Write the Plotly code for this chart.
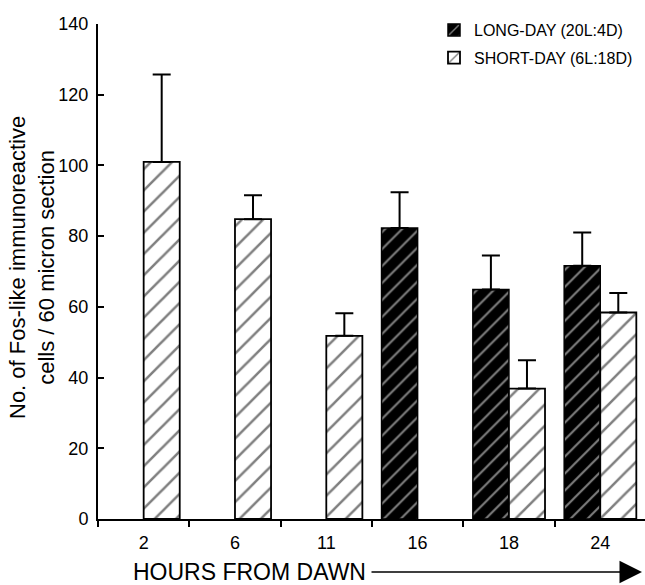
import plotly.graph_objects as go

categories = ["2", "6", "11", "16", "18", "24"]
long_day = [None, None, None, 82.3, 64.9, 71.6]
long_err = [None, None, None, 10.1, 9.6, 9.4]
short_day = [101.0, 84.8, 51.8, None, 36.9, 58.4]
short_err = [24.7, 6.8, 6.4, None, 8.0, 5.5]
signif = ["", "", "", "", "**", "*"]

W, H = 645, 585
L, R, T, B = 98, 0, 24, 66
pw, ph = W - L - R, H - T - B

def px(x):
    return (x - L) / pw

def py(y):
    return (H - B - y) / ph

font = "Liberation Sans, Arial, sans-serif"

fig = go.Figure()
fig.add_trace(go.Bar(
    x=categories, y=long_day, name="LONG-DAY (20L:4D)", legendgroup="long",
    marker=dict(color="black", line=dict(color="black", width=1.5),
                pattern=dict(shape="/", bgcolor="black", fgcolor="white",
                             size=12, solidity=0.17)),
    error_y=dict(type="data", array=long_err, arrayminus=[0]*6, symmetric=False,
                 color="black", thickness=2, width=9),
))
fig.add_trace(go.Bar(
    x=categories, y=short_day, name="SHORT-DAY (6L:18D)", legendgroup="short",
    marker=dict(color="white", line=dict(color="black", width=1.8),
                pattern=dict(shape="/", bgcolor="white", fgcolor="black",
                             size=15, solidity=0.17)),
    error_y=dict(type="data", array=short_err, arrayminus=[0]*6, symmetric=False,
                 color="black", thickness=2, width=9),
))

annotations = []
for c, v, e, s in zip(categories, short_day, short_err, signif):
    if s and v is not None:
        annotations.append(dict(x=c, y=v + e, xref="x", yref="y", text=s,
                                showarrow=False, xshift=18, yshift=10,
                                font=dict(family=font, size=15, color="black")))

annotations.append(dict(x=px(32), y=py(268), xref="paper", yref="paper",
                        xanchor="center", yanchor="middle",
                        text="No. of Fos-like immunoreactive<br>cells / 60 micron section",
                        textangle=-90, showarrow=False,
                        font=dict(family=font, size=22, color="black")))
annotations.append(dict(x=px(131), y=py(572), xref="paper", yref="paper",
                        xanchor="left", yanchor="middle",
                        text="HOURS FROM DAWN", showarrow=False,
                        font=dict(family=font, size=23, color="black")))
annotations.append(dict(x=px(642), y=py(572), xref="paper", yref="paper",
                        ax=-272, ay=0, text="", showarrow=True,
                        arrowhead=2, arrowsize=3, arrowwidth=1.5,
                        arrowcolor="black"))

fig.update_layout(
    width=W, height=H,
    margin=dict(l=L, r=R, t=T, b=B),
    paper_bgcolor="white", plot_bgcolor="white",
    barmode="group", bargap=0.21, bargroupgap=0,
    font=dict(family=font, size=17, color="black"),
    showlegend=True,
    legend=dict(x=px(434), y=py(13), xanchor="left", yanchor="top",
                font=dict(family=font, size=16, color="black"),
                bgcolor="rgba(0,0,0,0)", itemwidth=30, tracegroupgap=4),
    annotations=annotations,
    xaxis=dict(type="category", range=[-0.5, 5.49], showline=True,
               linecolor="black", linewidth=2, ticks="outside",
               tickson="boundaries", ticklen=6, tickwidth=1.5, tickcolor="black",
               showgrid=False, zeroline=False, ticklabelstandoff=6,
               tickfont=dict(family=font, size=18, color="black")),
    yaxis=dict(range=[0, 140], tickvals=[0, 20, 40, 60, 80, 100, 120, 140],
               showline=True, linecolor="black", linewidth=2, ticks="inside",
               ticklen=6, tickwidth=1.5, tickcolor="black",
               showgrid=False, zeroline=False, ticklabelstandoff=4,
               tickfont=dict(family=font, size=18, color="black")),
)

fig.write_html("out.html", config={"displayModeBar": False},
               post_script="document.body.style.margin='0';")
